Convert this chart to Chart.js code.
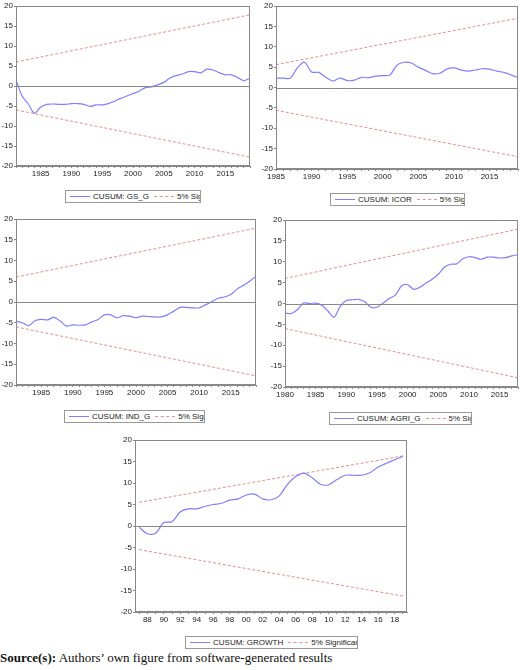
<!DOCTYPE html>
<html>
<head>
<meta charset="utf-8">
<script src="https://cdn.jsdelivr.net/npm/chart.js@4/dist/chart.umd.min.js"></script>
<style>
  body { margin: 0; background: #fff; width: 520px; height: 670px; position: relative; overflow: hidden; font-family: "Liberation Sans", Arial, sans-serif; }
  .pane { position: absolute; }
  .legend { position: absolute; border: 1px solid #999; font-size: 8px; color: #222; height: 13px; line-height: 13px; display: flex; align-items: center; padding: 0 3px; box-sizing: border-box; white-space: nowrap; overflow: hidden; }
  .legend .s { display: inline-block; flex: 0 0 auto; width: 20px; height: 0; margin: 0 3px 0 1px; }
  .legend .b { border-top: 1.5px solid #8080ff; }
  .legend .r { border-top: 1.5px dashed #f09090; margin-left: 5px; }
  .source { position: absolute; left: 0; top: 650px; font-family: "Liberation Serif", "Times New Roman", serif; font-size: 13px; color: #111; }
</style>
</head>
<body>

<div class="pane" style="left:0;top:0"><canvas id="c1"></canvas></div>
<div class="pane" style="left:260px;top:0"><canvas id="c2"></canvas></div>
<div class="pane" style="left:0;top:213px"><canvas id="c3"></canvas></div>
<div class="pane" style="left:269px;top:214px"><canvas id="c4"></canvas></div>
<div class="pane" style="left:119px;top:434px"><canvas id="c5"></canvas></div>

<div class="legend" style="left:65px;top:190px;width:136px"><span class="s b"></span>CUSUM: GS_G<span class="s r"></span>5% Significance</div>
<div class="legend" style="left:330px;top:193px;width:135px"><span class="s b"></span>CUSUM: ICOR<span class="s r"></span>5% Significance</div>
<div class="legend" style="left:64px;top:410px;width:141px"><span class="s b"></span>CUSUM: IND_G<span class="s r"></span>5% Significance</div>
<div class="legend" style="left:329px;top:412px;width:143px"><span class="s b"></span>CUSUM: AGRI_G<span class="s r"></span>5% Significance</div>
<div class="legend" style="left:185px;top:636px;width:173px"><span class="s b"></span>CUSUM: GROWTH<span class="s r"></span>5% Significance</div>

<div class="source"><b>Source(s):</b> Authors’ own figure from software-generated results</div>

<script>
// CUSUM series
const gsYears = [1981, 2019];
const gsCusum = [1.5,-2.5,-4.5,-6.8,-5.3,-4.6,-4.5,-4.6,-4.6,-4.4,-4.4,-4.6,-5.1,-4.7,-4.7,-4.4,-3.8,-3.1,-2.5,-1.9,-1.3,-0.4,-0.2,0.3,0.9,2.0,2.6,3.0,3.6,3.6,3.3,4.2,4.0,3.3,2.8,2.8,2.1,1.3,2.0];
const gsBound = [6.0, 17.8];

const icorYears = [1985, 2019];
const icorCusum = [2.3,2.3,2.3,4.8,6.2,3.8,3.7,2.5,1.6,2.3,1.7,1.8,2.5,2.4,2.8,2.9,3.1,5.5,6.2,6.0,5.0,4.2,3.4,3.5,4.5,4.8,4.3,4.0,4.3,4.6,4.5,4.0,3.7,3.1,2.4];
const icorBound = [5.6, 17.0];

const indYears = [1981, 2019];
const indCusum = [-4.6,-5.0,-5.7,-4.5,-4.2,-4.3,-3.7,-4.6,-5.8,-5.5,-5.6,-5.5,-4.8,-4.2,-3.1,-3.1,-3.8,-3.3,-3.4,-3.8,-3.4,-3.5,-3.6,-3.6,-3.1,-2.2,-1.3,-1.3,-1.4,-1.4,-0.7,0.1,0.9,1.2,1.8,3.1,4.0,5.0,6.2];
const indBound = [6.0, 17.8];

const agriYears = [1980, 2018];
const agriCusum = [-2.3,-2.4,-1.5,0.1,0,0.1,-0.4,-1.8,-3.3,-0.7,0.7,0.9,1.0,0.4,-0.9,-0.9,0.1,1.2,2.0,4.2,4.5,3.4,3.9,4.9,5.8,7.0,8.7,9.4,9.5,10.7,11.2,11.0,10.6,11.1,11.1,10.9,11.0,11.4,11.7];
const agriBound = [6.0, 17.8];

const growthYears = [1987, 2019];
const growthCusum = [-0.3,-1.8,-1.7,0.8,1.0,3.3,4.0,4.0,4.6,5.0,5.3,6.0,6.3,7.2,7.4,6.3,6.1,7.0,9.7,11.5,12.3,11.2,9.7,9.6,10.8,11.8,11.8,11.8,12.4,13.7,14.6,15.4,16.2];
const growthBound = [5.5, 16.3];

const yTicks = [-20, -15, -10, -5, 0, 5, 10, 15, 20];

// draws the frame and the zero line like EViews does
const framePlugin = {
    id: 'frame',
    afterDatasetsDraw(chart) {
        const { ctx, chartArea: a, scales } = chart;
        ctx.save();
        ctx.strokeStyle = '#888';
        ctx.lineWidth = 1;
        ctx.strokeRect(a.left + 0.5, a.top + 0.5, a.width - 1, a.height - 1);
        const y0 = Math.round(scales.y.getPixelForValue(0)) + 0.5;
        ctx.beginPath();
        ctx.moveTo(a.left, y0);
        ctx.lineTo(a.right, y0);
        ctx.stroke();
        ctx.restore();
    }
};

function makeChart(id, w, h, years, cusum, bound, xMin, xMax, labelFn) {
    const pts = cusum.map((v, i) => ({ x: years[0] + i, y: v }));
    const upper = [{ x: years[0], y: bound[0] }, { x: years[1], y: bound[1] }];
    const lower = [{ x: years[0], y: -bound[0] }, { x: years[1], y: -bound[1] }];
    const canvas = document.getElementById(id);
    canvas.parentNode.style.width = w + 'px';
    canvas.parentNode.style.height = h + 'px';
    const red = { borderColor: '#f08a8a', borderWidth: 1, borderDash: [3, 2], pointRadius: 0, fill: false };
    return new Chart(canvas, {
        type: 'line',
        data: {
            datasets: [
                { data: pts, borderColor: '#7f7fff', borderWidth: 1.2, pointRadius: 0, tension: 0.3, fill: false },
                Object.assign({ data: upper }, red),
                Object.assign({ data: lower }, red)
            ]
        },
        options: {
            responsive: true,
            maintainAspectRatio: false,
            animation: false,
            layout: { padding: { top: 6, right: 2, left: 0, bottom: 0 } },
            plugins: { legend: { display: false }, tooltip: { enabled: false } },
            scales: {
                x: {
                    type: 'linear', min: xMin, max: xMax,
                    afterBuildTicks: s => {
                        const t = [];
                        for (let yr = Math.ceil(xMin); yr <= xMax; yr++) t.push({ value: yr });
                        s.ticks = t;
                    },
                    afterFit: s => { s.height = 14; },
                    grid: { drawOnChartArea: false, tickLength: 2, color: '#888' },
                    border: { color: '#888' },
                    ticks: { autoSkip: false, maxRotation: 0, padding: 1, color: '#222', font: { size: 8, family: 'Liberation Sans' }, callback: labelFn }
                },
                y: {
                    min: -20, max: 20,
                    afterBuildTicks: s => { s.ticks = yTicks.map(v => ({ value: v })); },
                    afterFit: s => { s.width = 16; },
                    grid: { drawOnChartArea: false, tickLength: 2, color: '#888' },
                    border: { color: '#888' },
                    ticks: { padding: 1, color: '#222', font: { size: 8, family: 'Liberation Sans' } }
                }
            }
        },
        plugins: [framePlugin]
    });
}

const every5 = v => (v % 5 === 0 ? String(v) : '');
const evenTwoDigit = v => (v % 2 === 0 ? String(v % 100).padStart(2, '0') : '');

makeChart('c1', 252, 180, gsYears, gsCusum, gsBound, 1981, 2019, every5);
makeChart('c2', 260, 183, icorYears, icorCusum, icorBound, 1985, 2019, every5);
makeChart('c3', 258, 186, indYears, indCusum, indBound, 1981, 2019, every5);
makeChart('c4', 251, 187, agriYears, agriCusum, agriBound, 1980, 2018, every5);
makeChart('c5', 290, 192, growthYears, growthCusum, growthBound, 1986.5, 2019.5, evenTwoDigit);
</script>
</body>
</html>
